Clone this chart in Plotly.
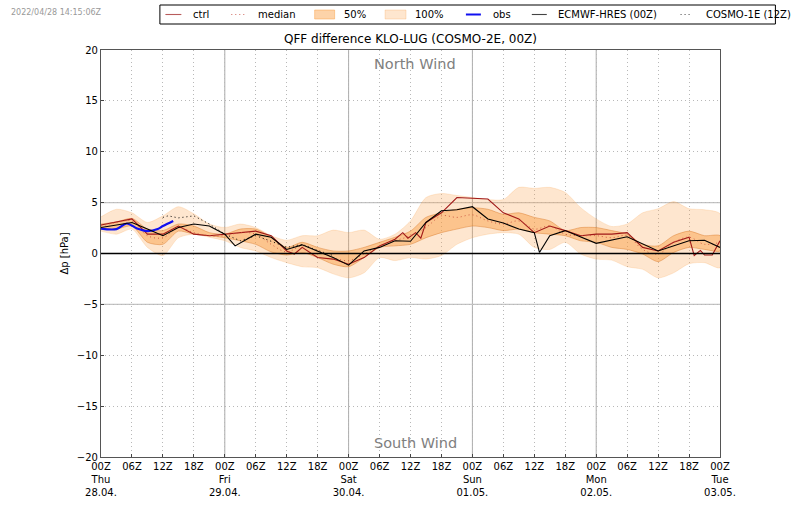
import plotly.graph_objects as go

hours = list(range(0, 121, 3))

upper_100 = [3.6, 4.35, 4.0, 3.05, 3.7, 4.6, 3.9, 2.9, 2.55, 2.9, 2.55, 1.75, 1.3, 1.75,
             1.75, 2.3, 2.05, 2.3, 1.4, 1.9, 3.2, 5.5, 5.9, 5.7, 5.5, 5.3, 5.3, 6.5,
             6.4, 6.5, 6.0, 4.5, 3.4, 2.65, 2.9, 4.0, 4.4, 5.1, 4.4, 4.3, 3.9]
lower_100 = [2.2, 1.9, 2.4, 0.6, -0.2, 1.55, 1.9, 1.6, 1.25, 0.6, 0.25, -0.4, -0.9, -1.3,
             -1.4, -2.0, -2.4, -1.9, -0.4, -0.7, -0.4, -0.55, -0.2, 0.9, 1.55, 1.9, 2.05, 1.9,
             0.6, 0.4, 1.1, -0.05, -0.55, -0.65, -1.3, -1.55, -2.4, -1.9, -1.0, -0.9, -1.4]
upper_50 = [2.9, 3.1, 3.45, 2.4, 2.25, 2.9, 2.7, 2.05, 1.9, 2.4, 2.4, 1.6, 0.6, 1.1,
            0.6, 0.25, 0.25, 0.6, 1.1, 1.6, 2.2, 3.55, 4.0, 4.35, 4.5, 4.35, 3.85, 4.0,
            3.55, 3.2, 2.25, 2.55, 2.55, 2.25, 1.9, 0.9, 0.75, 1.75, 2.2, 1.75, 1.75]
lower_50 = [2.4, 2.4, 2.7, 1.1, 0.9, 2.2, 1.9, 1.75, 1.55, 1.25, 0.9, 0.15, -0.15, 0.1,
            -0.4, -1.05, -1.3, -0.4, 0.6, 0.75, 0.9, 1.55, 2.05, 2.4, 2.7, 2.55, 2.25, 2.4,
            2.05, 1.9, 1.75, 1.25, 1.1, 0.6, 0.4, -0.05, -0.8, 0.1, 0.6, 0.4, 0.25]
median = [2.7, 3.05, 3.2, 1.75, 1.55, 2.55, 2.05, 1.75, 1.75, 2.05, 1.9, 0.9, 0.15, 0.75,
          0.25, -0.4, -0.7, -0.05, 0.75, 1.25, 1.75, 2.55, 3.7, 3.55, 3.8, 3.2, 2.9, 3.2,
          2.4, 2.7, 1.9, 1.75, 1.75, 1.55, 1.75, 0.4, -0.05, 1.1, 1.6, 0.9, 1.1]

ctrl_hours = [0, 3, 6, 9, 12, 15, 18, 21, 24, 27, 30, 33, 36, 37.5, 39, 42, 45, 48, 51, 54, 57, 58.5,
              59.5, 61, 62, 63, 66, 69, 72, 75, 78, 81, 84, 87, 90, 93, 96, 99, 102, 105, 108, 111,
              114, 115, 116.2, 117, 118.5, 120]
ctrl = [2.8, 3.1, 3.4, 1.9, 1.9, 2.7, 1.9, 1.75, 1.9, 2.1, 2.2, 1.75, 0.25, -0.05, 0.6, -0.4, -0.55,
        -1.05, -0.4, 0.75, 1.4, 2.05, 1.5, 2.05, 1.5, 3.05, 4.0, 5.5, 5.45, 5.35, 4.0, 3.4, 2.05,
        2.7, 2.25, 1.75, 1.9, 1.9, 2.05, 0.6, 0.25, 1.1, 1.6, -0.2, 0.3, -0.15, -0.15, 1.25]

ecmwf_hours = [0, 6, 9, 12, 15, 18, 21, 24, 26, 30, 33, 36, 39, 42, 45, 48, 51, 54, 57, 60, 63, 66,
               69, 72, 75, 78, 81, 84, 85, 87, 90, 96, 102, 108, 114, 117, 120]
ecmwf = [2.55, 3.05, 2.4, 1.75, 2.55, 2.9, 2.7, 1.9, 0.75, 1.9, 1.6, 0.4, 0.85, 0.25, -0.4, -1.15,
         0.25, 0.6, 1.25, 1.2, 3.05, 4.2, 4.3, 4.6, 3.4, 3.0, 2.4, 2.05, 0.1, 1.75, 2.25, 1.0, 1.65,
         0.25, 1.25, 1.3, 0.6]

cosmo1_hours = [12, 13, 15, 18, 21, 24, 27, 30, 33, 36, 39, 42, 45]
cosmo1 = [3.55, 3.7, 3.5, 3.7, 2.9, 1.9, 1.25, 1.75, 1.2, 0.6, 0.9, 0.3, -0.2]

obs_hours = [0, 3, 5, 7, 9, 11, 12, 14]
obs = [2.45, 2.4, 2.95, 2.45, 2.2, 2.4, 2.7, 3.2]

tick_hours = list(range(0, 121, 6))
tick_labels = ["00Z<br>Thu<br>28.04.", "06Z", "12Z", "18Z", "00Z<br>Fri<br>29.04.", "06Z", "12Z", "18Z",
               "00Z<br>Sat<br>30.04.", "06Z", "12Z", "18Z", "00Z<br>Sun<br>01.05.", "06Z", "12Z", "18Z",
               "00Z<br>Mon<br>02.05.", "06Z", "12Z", "18Z", "00Z<br>Tue<br>03.05."]
day_hours = [24, 48, 72, 96]
solid_levels = [-5, 5]

FILL_100 = "rgba(250,160,70,0.26)"
FILL_50 = "rgba(250,150,50,0.42)"
DOTS = "1px,3px"

# plot box in window pixels, the legend is drawn by hand against it
LEFT, RIGHT, TOP, BOTTOM = 100.5, 720.5, 50, 457


def px_x(px):
    return (px - LEFT) / (RIGHT - LEFT)


def px_y(py):
    return (BOTTOM - py) / (BOTTOM - TOP)


fig = go.Figure()


def add_band(upper, lower, name, fill, edge):
    fig.add_trace(go.Scatter(x=hours + hours[::-1], y=upper + lower[::-1], mode="lines", fill="toself",
                             fillcolor=fill, line=dict(color=edge, width=0.8, shape="spline", smoothing=0.7),
                             name=name, hoverinfo="skip"))


def add_line(x, y, name, color, width, dash, shape="linear"):
    fig.add_trace(go.Scatter(x=x, y=y, mode="lines", name=name,
                             line=dict(color=color, width=width, dash=dash, shape=shape)))


add_band(upper_100, lower_100, "100%", FILL_100, "rgba(250,160,70,0.25)")
add_band(upper_50, lower_50, "50%", FILL_50, "rgba(215,120,40,0.55)")
add_line(ctrl_hours, ctrl, "ctrl", "#a01818", 1.1, "solid")
add_line(hours, median, "median", "#c8503c", 0.9, DOTS, "spline")
add_line(obs_hours, obs, "obs", "#1010f0", 2.2, "solid", "spline")
add_line(ecmwf_hours, ecmwf, "ECMWF-HRES (00Z)", "black", 1.1, "solid")
add_line(cosmo1_hours, cosmo1, "COSMO-1E (12Z)", "black", 1.0, DOTS)

for h in day_hours:
    fig.add_shape(type="line", x0=h, x1=h, y0=-20, y1=20, layer="below", line=dict(color="#aaaaaa", width=1))
for level in solid_levels:
    fig.add_shape(type="line", x0=0, x1=120, y0=level, y1=level, layer="below", line=dict(color="#c4c4c4", width=1.2))
fig.add_shape(type="line", x0=0, x1=120, y0=0, y1=0, layer="above", line=dict(color="black", width=1.5))

fig.add_annotation(x=60.9, y=18.6, text="North Wind", showarrow=False, font=dict(size=14.5, color="#808080"))
fig.add_annotation(x=60.9, y=-18.6, text="South Wind", showarrow=False, font=dict(size=14.5, color="#808080"))
fig.add_annotation(x=px_x(8), y=px_y(12), xref="paper", yref="paper", xanchor="left", yanchor="middle",
                   text="2022/04/28 14:15:06Z", showarrow=False, font=dict(size=8, color="#999999"))

# legend box
fig.add_shape(type="rect", xref="paper", yref="paper", x0=px_x(159.5), x1=px_x(776), y0=px_y(24), y1=px_y(5),
              line=dict(color="black", width=1), fillcolor="white")
legend_y = 14.5
legend_lines = [(165, 181, "ctrl", 192, "#b85c5c", 1.1, "solid"),
                (231, 245, "median", 257, "#d06a60", 1, DOTS),
                (466, 481, "obs", 492, "#1010f0", 2, "solid"),
                (532, 547, "ECMWF-HRES (00Z)", 557.6, "#444444", 1.1, "solid"),
                (681, 693, "COSMO-1E (12Z)", 705.6, "#444444", 1, DOTS)]
legend_boxes = [(314.5, 334.5, "50%", 342.5, FILL_50),
                (385, 406, "100%", 414, FILL_100)]
for x0, x1, label, text_x, color, width, dash in legend_lines:
    fig.add_shape(type="line", xref="paper", yref="paper", x0=px_x(x0), x1=px_x(x1), y0=px_y(legend_y),
                  y1=px_y(legend_y), line=dict(color=color, width=width, dash=dash))
    fig.add_annotation(x=px_x(text_x), y=px_y(legend_y), xref="paper", yref="paper", xanchor="left", yanchor="middle",
                       text=label, showarrow=False, font=dict(size=10), borderpad=0)
for x0, x1, label, text_x, fill in legend_boxes:
    fig.add_shape(type="rect", xref="paper", yref="paper", x0=px_x(x0), x1=px_x(x1), y0=px_y(legend_y + 4.5),
                  y1=px_y(legend_y - 4.5), line=dict(color=fill, width=1), fillcolor=fill)
    fig.add_annotation(x=px_x(text_x), y=px_y(legend_y), xref="paper", yref="paper", xanchor="left", yanchor="middle",
                       text=label, showarrow=False, font=dict(size=10), borderpad=0)

fig.update_layout(
    width=800, height=509,
    margin=dict(l=LEFT, r=800 - RIGHT, t=TOP, b=509 - BOTTOM),
    paper_bgcolor="white", plot_bgcolor="white",
    font=dict(family="DejaVu Sans", size=10, color="black"),
    title=dict(text="QFF difference KLO-LUG (COSMO-2E, 00Z)", font=dict(size=12),
               x=410.5 / 800, xanchor="center", y=1 - 39 / 509, yanchor="middle"),
    showlegend=False,
    hovermode=False,
)
fig.update_xaxes(range=[0, 120], tickvals=tick_hours, ticktext=tick_labels, tickangle=0, ticks="inside", ticklen=3,
                 showgrid=True, gridcolor="#b8b8b8", griddash=DOTS, gridwidth=1, zeroline=False, automargin=False,
                 showline=True, mirror=True, linecolor="#555555", linewidth=1.2)
fig.update_yaxes(range=[-20, 20], tick0=-20, dtick=5, ticks="inside", ticklen=3, automargin=False,
                 showgrid=True, gridcolor="#b8b8b8", griddash=DOTS, gridwidth=1, zeroline=False,
                 showline=True, mirror=True, linecolor="#555555", linewidth=1.2,
                 title=dict(text="Δp [hPa]", font=dict(size=10), standoff=6))

# drop the default body margin so the figure fills the window exactly
fig.write_html("out.html", config={"displayModeBar": False},
               post_script="document.body.style.margin='0';document.documentElement.style.overflow='hidden';")
